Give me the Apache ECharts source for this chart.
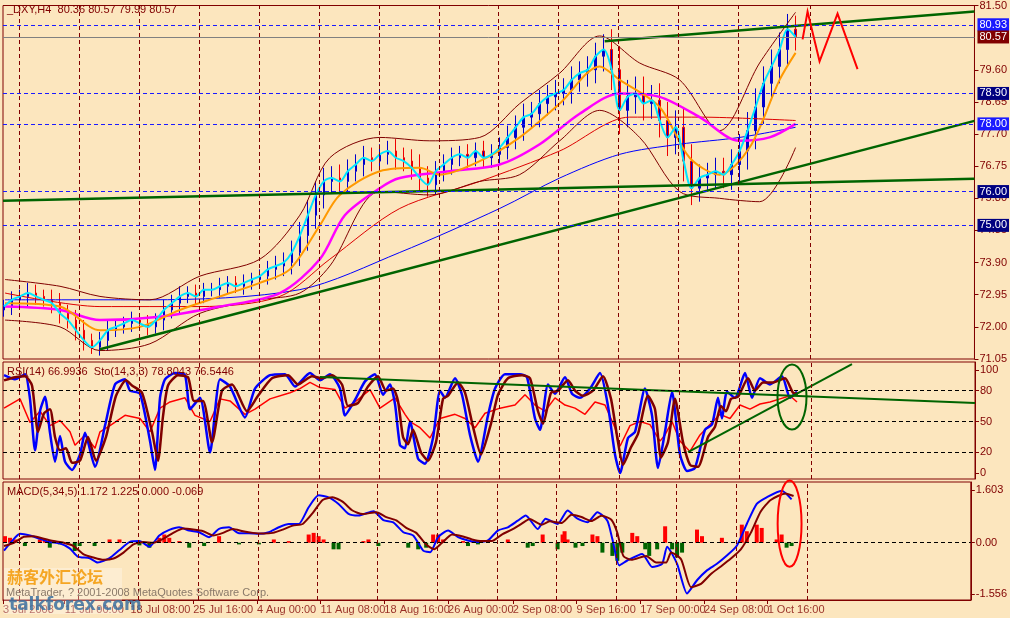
<!DOCTYPE html>
<html><head><meta charset="utf-8">
<script src="https://cdn.jsdelivr.net/npm/echarts@6/dist/echarts.min.js"></script>
<style>html,body{margin:0;padding:0;background:#FCE6BE}#c{width:1010px;height:618px}</style>
</head><body><div id="c"></div>
<script>
// closes of bars (one bar every 8 time units starting at t=4)
const closes=[72.6,72.8,72.9,73.0,72.9,72.8,72.7,72.4,72.2,71.9,71.6,71.4,71.6,71.9,72.0,72.1,72.2,72.1,72.0,72.2,
72.5,72.7,72.9,73.0,72.9,73.1,73.1,73.2,73.3,73.2,73.3,73.4,73.5,73.7,73.8,73.9,74.2,74.7,75.3,75.9,
76.3,76.4,76.3,76.6,76.8,77.0,76.9,77.1,77.2,77.0,76.9,76.7,76.4,76.2,76.6,76.8,77.0,77.1,77.0,77.2,
77.0,77.1,77.3,77.6,77.9,78.2,78.3,78.6,78.8,78.9,79.0,79.3,79.5,79.6,80.0,80.2,79.6,78.4,78.8,78.9,
78.6,78.7,78.1,77.6,77.9,76.9,76.1,76.4,76.5,76.6,76.5,76.8,77.2,77.8,78.5,79.2,79.7,80.2,80.8,80.57];
// half of each bar's high-low range beyond its body
const wick=[0.2,0.25,0.2,0.3,0.25,0.2,0.3,0.3,0.25,0.3,0.3,0.2,0.25,0.3,0.2,0.2,0.25,0.2,0.25,0.2,
0.3,0.25,0.3,0.2,0.25,0.2,0.2,0.25,0.2,0.2,0.25,0.2,0.2,0.25,0.3,0.3,0.35,0.4,0.45,0.4,
0.4,0.35,0.4,0.35,0.3,0.35,0.3,0.3,0.3,0.35,0.3,0.35,0.4,0.35,0.3,0.3,0.3,0.25,0.3,0.25,
0.3,0.3,0.3,0.35,0.35,0.4,0.35,0.4,0.35,0.4,0.35,0.4,0.35,0.4,0.4,0.45,0.6,0.7,0.5,0.5,
0.5,0.45,0.5,0.55,0.5,0.6,0.5,0.4,0.35,0.4,0.4,0.45,0.5,0.55,0.55,0.5,0.5,0.5,0.45,0.4];
const firstOpen=72.5;
const orangeMA=[[5,72.7],[60,72.6],[100,71.9],[140,72.0],[180,72.5],[220,72.9],[260,73.3],[290,73.7],[320,75.0],[340,75.9],[380,76.6],[420,76.7],[440,76.5],[480,76.9],[520,77.6],[560,78.6],[600,79.7],[620,79.3],[660,78.5],[690,77.0],[720,76.5],[750,77.3],[780,79.3],[796,80.1]];
const magentaMA=[[5,72.6],[60,72.5],[100,72.2],[160,72.3],[220,72.6],[280,73.0],[320,74.0],[345,75.3],[380,76.1],[400,76.4],[450,76.6],[500,76.8],[540,77.4],[580,78.3],[620,78.9],[660,78.8],[700,78.2],[740,77.5],[770,77.6],[796,78.0]];
const blueMA=[[5,72.8],[150,72.8],[300,73.1],[400,74.2],[500,75.5],[560,76.4],[620,77.1],[680,77.4],[740,77.6],[796,77.9]];
const redMA=[[5,73.0],[100,72.6],[200,72.6],[280,72.9],[330,74.0],[400,75.5],[480,76.3],[560,77.2],[630,78.2],[700,78.2],[796,78.1]];
const bbUpper=[[5,73.4],[60,73.2],[100,72.9],[150,72.8],[200,73.5],[260,74.0],[300,75.3],[330,77.0],[380,77.6],[430,77.5],[480,77.6],[520,78.6],[560,79.5],[600,80.6],[640,79.8],[680,79.3],[720,77.8],[760,79.8],[796,81.3]];
const bbLower=[[5,72.2],[60,72.0],[100,71.3],[150,71.5],[200,72.4],[260,72.8],[300,73.0],[330,73.8],[380,76.0],[430,75.9],[480,76.3],[520,76.5],[560,77.5],[600,78.4],[640,77.6],[680,76.0],[720,75.8],[760,75.7],[796,77.3]];
const trend1=[[3,75.73],[975,76.38]];
const trend2=[[100,71.34],[975,78.09]];
const trend3=[[605,80.44],[975,81.32]];
const zigzag=[[803,80.50],[808,81.32],[820,79.85],[838,81.26],[858,79.62]];
const levelsBlue=[80.93,78.90,78.00,76.00,75.00];
const levelBoxColors=['#1a1aff','#000080','#1a1aff','#000080','#000080'];
const lastPrice=80.57;
const priceTicks=[71.05,72.00,72.95,73.90,74.85,75.80,76.75,77.70,78.65,79.60,81.50];
const stochMain=[[4,95],[15,91],[25,96],[30,72],[35,22],[40,60],[45,74],[50,39],[55,11],[60,36],[65,11],[72,3],[80,18],[85,39],[95,6],[105,46],[115,86],[125,91],[130,80],[140,77],[150,31],[155,3],[160,73],[165,91],[175,97],[185,95],[190,62],[200,73],[210,20],[220,91],[230,84],[245,54],[255,82],[270,95],[285,96],[295,84],[310,97],[320,90],[330,96],[340,82],[345,56],[355,71],[365,89],[375,96],[383,76],[390,86],[395,67],[400,27],[405,24],[410,50],[418,14],[425,9],[433,34],[440,80],[445,73],[455,92],[462,76],[470,37],[478,11],[488,56],[495,82],[505,96],[520,96],[527,93],[535,53],[540,42],[548,86],[555,77],[565,93],[572,77],[580,73],[590,82],[600,97],[608,65],[615,18],[620,0],[628,34],[635,40],[645,82],[652,56],[658,5],[665,40],[672,79],[680,18],[687,2],[695,5],[705,42],[712,47],[718,73],[722,53],[727,79],[735,73],[745,97],[752,73],[760,92],[770,86],[782,94],[790,73],[797,79]];
const stochSignal=[[4,90],[15,93],[25,94],[32,85],[38,40],[44,58],[50,62],[55,35],[60,22],[66,24],[72,10],[80,12],[88,35],[96,12],[106,35],[116,75],[126,90],[132,85],[142,78],[152,40],[158,12],[163,55],[168,85],[178,95],[188,93],[194,70],[203,70],[212,30],[222,80],[232,86],[247,60],[258,75],[272,92],[288,95],[298,86],[312,94],[322,92],[332,95],[342,86],[348,65],[358,68],[368,84],[378,94],[386,80],[393,82],[398,70],[403,35],[408,28],[413,42],[421,20],[428,12],[436,30],[443,72],[448,75],[458,88],[465,78],[473,45],[481,18],[491,48],[498,76],[508,92],[522,95],[530,92],[538,60],[543,48],[551,78],[558,80],[568,90],[575,80],[583,75],[593,80],[603,94],[611,72],[618,30],[623,8],[631,25],[638,38],[648,75],[655,62],[661,15],[668,30],[675,72],[683,30],[690,8],[698,6],[708,35],[715,45],[721,65],[726,60],[731,72],[738,74],[748,92],[755,80],[763,88],[773,88],[785,92],[793,78],[798,77]];
const rsi=[[4,63],[20,72],[30,49],[40,60],[50,46],[60,51],[70,40],[75,27],[85,37],[95,24],[100,40],[110,46],[125,56],[140,53],[150,40],[160,63],[170,69],[185,73],[195,56],[210,50],[220,72],[230,70],[245,57],[255,62],[270,72],[290,78],[300,82],[310,88],[320,83],[335,81],[345,63],[355,69],[370,81],[380,63],[395,73],[405,57],[410,50],[420,44],[430,34],[440,53],[455,57],[465,53],[475,44],[485,58],[500,63],[515,66],[525,76],[535,66],[545,60],[555,73],[565,66],[575,63],[585,57],[595,69],[605,66],[615,44],[620,26],[630,46],[640,50],[650,47],[660,31],[665,37],[672,50],[680,31],[690,21],[700,37],[710,47],[720,57],[730,53],[740,66],[750,62],[760,67],[770,69],[780,72],[790,75],[797,69]];
const rsiTrendA=[[320,93.2],[975,68]];
const rsiTrendB=[[688,20.4],[852,105.8]];
const oscTicks=[0,20,50,80,100];
const macdMain=[[4,-0.24],[12,0.05],[20,0.27],[30,0.22],[40,0.12],[50,0.02],[60,-0.02],[70,-0.17],[78,-0.42],[90,-0.47],[98,-0.6],[110,-0.47],[120,-0.22],[130,0.02],[140,0.05],[150,-0.12],[160,0.22],[170,0.39],[180,0.47],[190,0.37],[200,0.32],[210,0.17],[220,0.42],[230,0.47],[240,0.29],[250,0.29],[260,0.27],[270,0.32],[280,0.47],[290,0.57],[300,0.57],[310,1.08],[320,1.44],[330,1.38],[340,1.18],[350,0.88],[360,0.83],[375,0.96],[385,0.69],[395,0.62],[405,0.32],[415,0.22],[425,-0.24],[432,-0.29],[440,0.17],[450,0.37],[460,0.17],[470,0.07],[480,0.02],[490,0.07],[500,0.37],[510,0.47],[520,0.67],[528,0.83],[540,0.42],[548,0.73],[560,0.57],[570,0.98],[580,0.73],[590,0.62],[600,0.93],[610,0.67],[615,0.11],[622,-0.69],[630,-0.54],[645,-0.34],[655,-0.74],[665,-0.64],[670,-0.12],[680,-0.64],[690,-1.54],[700,-1.14],[710,-0.84],[720,-0.64],[730,-0.39],[740,-0.09],[750,0.57],[760,1.18],[770,1.38],[785,1.58],[795,1.32]];
const macdSignal=[[4,-0.1],[14,0.0],[24,0.18],[34,0.2],[44,0.12],[54,0.05],[64,0.0],[74,-0.1],[84,-0.35],[94,-0.45],[104,-0.52],[114,-0.48],[124,-0.3],[134,-0.05],[144,0.02],[154,0.0],[164,0.12],[174,0.3],[184,0.43],[194,0.4],[204,0.35],[214,0.22],[224,0.3],[234,0.42],[244,0.35],[254,0.3],[264,0.28],[274,0.3],[284,0.4],[294,0.52],[304,0.57],[314,0.9],[324,1.3],[334,1.38],[344,1.25],[354,0.98],[364,0.87],[378,0.93],[388,0.78],[398,0.68],[408,0.45],[418,0.3],[428,-0.05],[436,-0.2],[444,0.0],[454,0.25],[464,0.2],[474,0.1],[484,0.05],[494,0.05],[504,0.25],[514,0.4],[524,0.58],[532,0.72],[544,0.55],[552,0.65],[564,0.6],[574,0.85],[584,0.78],[594,0.66],[604,0.82],[614,0.7],[620,0.3],[626,-0.4],[634,-0.52],[649,-0.4],[659,-0.6],[669,-0.6],[674,-0.3],[684,-0.5],[694,-1.35],[704,-1.25],[714,-0.95],[724,-0.72],[734,-0.48],[744,-0.2],[754,0.3],[764,0.95],[774,1.3],[789,1.5],[797,1.42]];
const osma=[[5,0.2],[10,0.15],[15,0.1],[25,-0.1],[40,0.1],[45,0.1],[50,-0.15],[60,-0.05],[75,-0.25],[80,-0.1],[95,-0.1],[110,0.1],[120,0.1],[140,-0.08],[150,-0.15],[160,0.15],[165,0.25],[170,0.15],[180,0.05],[190,-0.15],[205,-0.1],[220,0.2],[240,-0.05],[260,-0.05],[275,0.1],[290,0.05],[310,0.25],[315,0.3],[320,0.2],[325,0.1],[335,-0.2],[340,-0.2],[365,0.05],[370,0.1],[380,-0.1],[410,-0.15],[420,-0.2],[428,-0.15],[435,0.25],[440,0.25],[445,0.1],[465,0.05],[470,-0.1],[475,0.05],[480,-0.05],[510,0.1],[530,-0.15],[535,-0.1],[545,0.25],[560,-0.2],[565,0.25],[567,0.35],[570,0.1],[578,-0.15],[585,-0.1],[595,0.25],[600,0.2],[605,-0.3],[615,-0.4],[620,-0.55],[625,-0.3],[635,0.3],[640,0.2],[648,-0.2],[652,-0.4],[660,-0.2],[668,0.5],[675,-0.2],[680,-0.45],[685,-0.3],[700,0.4],[705,0.2],[725,0.15],[745,0.55],[750,0.35],[760,0.55],[765,0.45],[780,0.1],[785,0.25],[790,-0.15],[795,-0.1]];
const macdTicks=[-1.556,0,1.603];
const ellipses=[{grid:1,c:[792,73.8,14.5,31.6],color:'#006400'},{grid:2,c:[793,0.58,12,1.31],color:'#ff0000'}];
const timeLabelPos=[3,65,131,194,258,322,386,450,515,579,643,707,771];
const timeLabels=['3 Jul 2008','11 Jul 00:00','18 Jul 08:00','25 Jul 16:00','4 Aug 00:00','11 Aug 08:00','18 Aug 16:00','26 Aug 00:00','2 Sep 08:00','9 Sep 16:00','17 Sep 00:00','24 Sep 08:00','1 Oct 16:00'];
const gridLinePos=[19,79,139,199,259,319,379,439,499,559,619,679,739,811];

const BR='#800000', FONT='Liberation Sans';
const ohlc=closes.map((c,i)=>{const o=i?closes[i-1]:firstOpen;return [4+8*i,o,c,Math.min(o,c)-wick[i],Math.max(o,c)+wick[i]];});
const vMark={silent:true,symbol:'none',label:{show:false},lineStyle:{color:BR,type:[4,3],width:1},data:gridLinePos.map(x=>({xAxis:x}))};
const grids=[{left:3,right:35,top:4,height:355},{left:3,right:35,top:362,height:117},{left:3,right:35,top:482,height:118}];
const xAxes=grids.map((g,i)=>({type:'value',gridIndex:i,min:3,max:975,splitLine:{show:false},
  axisLine:{show:i===2,onZero:false,lineStyle:{color:BR}},
  axisTick:{show:i===2,customValues:timeLabelPos,length:4,lineStyle:{color:BR}},
  axisLabel:{show:false}}));
function yAx(i,min,max,ticks,fmt){return {type:'value',gridIndex:i,position:'right',min,max,scale:true,splitLine:{show:false},
  axisLine:{show:true,lineStyle:{color:BR}},axisTick:{show:true,customValues:ticks,length:4,lineStyle:{color:BR}},
  axisLabel:{customValues:ticks,color:BR,fontFamily:FONT,fontSize:11,margin:5,formatter:fmt}};}
const yAxes=[yAx(0,71.05,81.5,priceTicks,v=>v.toFixed(2)),yAx(1,-5.8,107.8,oscTicks,v=>String(v)),
  yAx(2,-1.74,1.846,macdTicks,v=>v===0?'0.00':v.toFixed(3)),
  {type:'value',gridIndex:2,show:false,min:0,max:1}];
function line(data,color,w,g,extra){return Object.assign({type:'line',xAxisIndex:g,yAxisIndex:g,data,symbol:'none',smooth:0.3,
  lineStyle:{color,width:w},silent:true,z:3},extra||{});}
function hl(vals,color,type,g,boxes){return {silent:true,symbol:'none',data:vals.map((v,k)=>({yAxis:v,lineStyle:{color,type,width:1},
  label:boxes?{show:true,position:'end',formatter:v.toFixed(2),color:'#fff',backgroundColor:boxes[k],padding:[1,2],fontFamily:FONT,fontSize:11,distance:3}:{show:false}})),
  lineStyle:{color,type,width:1}};}
const series=[
 {type:'candlestick',xAxisIndex:0,yAxisIndex:0,data:ohlc.map(d=>[d[0],d[1],d[2],d[3],d[4]]),
  encode:{x:0,y:[1,2,3,4]},barWidth:2,itemStyle:{color:'#0000cc',color0:'#0000cc',borderColor:'#0000cc',borderColor0:'#ee0000',borderWidth:1},z:2,
  markLine:vMark},
 line(blueMA,'#0000ff',1,0,{markLine:hl(levelsBlue,'#1a1aff',[4,3],0,levelBoxColors)}),
 line(redMA,'#dd0000',1,0,{markLine:hl([lastPrice],'#808080','solid',0,[BR])}),
 line(bbUpper,BR,1,0),line(bbLower,BR,1,0),
 line(magentaMA,'#ff00ff',2.5,0),
 line(orangeMA,'#ff9900',2,0),
 line(ohlc.map(d=>[d[0],d[2]]),'#00e5ff',2,0),
 line(trend1,'#006400',2.5,0,{smooth:false}),line(trend2,'#006400',2.5,0,{smooth:false}),line(trend3,'#006400',2.5,0,{smooth:false}),
 {type:'lines',coordinateSystem:'cartesian2d',xAxisIndex:0,yAxisIndex:0,polyline:true,silent:true,z:5,
  symbol:['none','arrow'],symbolSize:9,lineStyle:{color:'#ff0000',width:2,opacity:1},data:[{coords:zigzag}]},
 line(rsi,'#ff0000',1.5,1,{smooth:false,markLine:hl([20,50,80],'#000',[4,3],1)}),
 line(stochMain,'#0000ff',2.5,1,{smooth:0.2,markLine:vMark}),
 line(stochSignal,BR,2.5,1,{smooth:0.2}),
 line(rsiTrendA,'#006400',2,1,{smooth:false}),line(rsiTrendB,'#006400',2,1,{smooth:false}),
 {type:'bar',xAxisIndex:2,yAxisIndex:2,barWidth:4,silent:true,data:osma.map(d=>({value:d,itemStyle:{color:d[1]>=0?'#ff0000':'#006400'}})),
  markLine:hl([0],'#000',[4,3],2)},
 line(macdMain,'#0000ff',2,2,{smooth:0.2,markLine:vMark}),
 line(macdSignal,BR,2,2,{smooth:0.2}),
 // time labels placed on the time scale of the bottom panel
 {type:'scatter',xAxisIndex:2,yAxisIndex:3,symbolSize:0,silent:true,data:timeLabelPos.map((p,k)=>({value:[p,0],
   label:{show:true,position:'right',distance:0,offset:[0,10],formatter:timeLabels[k],color:BR,fontFamily:FONT,fontSize:11}}))},
 ...ellipses.map(e=>({type:'custom',xAxisIndex:e.grid,yAxisIndex:e.grid,silent:true,z:6,data:[e.c],
  renderItem:(p,api)=>{const c=api.coord([api.value(0),api.value(1)]);const s=api.size([api.value(2),api.value(3)]);
   return {type:'ellipse',shape:{cx:c[0],cy:c[1],rx:s[0],ry:s[1]},style:{fill:'none',stroke:e.color,lineWidth:2}};}}))
];
const chart=echarts.init(document.getElementById('c'));
const txt=(l,t,s)=>({type:'text',left:l,top:t,style:{text:s,fill:BR,font:'11px "'+FONT+'"'},z:10});
chart.setOption({backgroundColor:'#FCE6BE',animation:false,
 grid:grids.map(g=>Object.assign({show:true,borderColor:BR,borderWidth:1,backgroundColor:'transparent'},g)),
 xAxis:xAxes,yAxis:yAxes,series,
 graphic:[txt(7,4,'_DXY,H4  80.36 80.57 79.99 80.57'),txt(7,366,'RSI(14) 66.9936  Sto(14,3,3) 78.8043 76.5446'),
  txt(7,486,'MACD(5,34,5) 1.172 1.225 0.000 -0.069'),
  {type:'rect',left:4,top:568,shape:{width:118,height:46},style:{fill:'rgba(255,255,255,0.3)'},z:9},
  {type:'text',left:7,top:569,z:10,style:{text:'赫客外汇论坛',fill:'#f5a623',font:'bold 16px "Noto Sans CJK SC"'}},
  {type:'text',left:6,top:587,z:10,style:{text:'MetaTrader, ? 2001-2008 MetaQuotes Software Corp.',fill:'#8a7a6a',font:'11px "'+FONT+'"'}},
  {type:'text',left:9,top:597,z:10,style:{text:'talkforex.com',fill:'#3a6fa0',font:'bold 17px "DejaVu Sans"',opacity:0.85}}]
});
</script></body></html>
